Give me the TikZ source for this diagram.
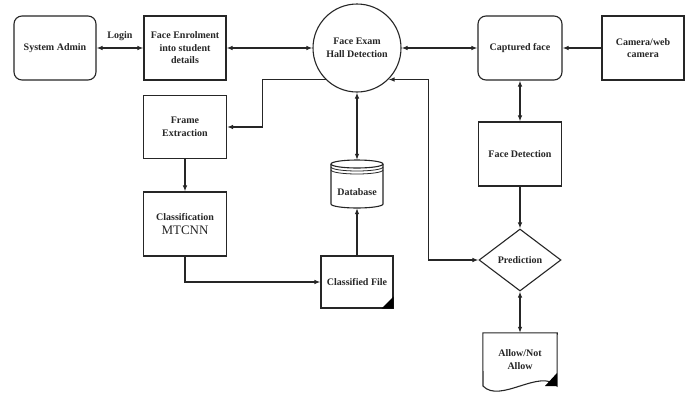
\documentclass[tikz,border=0pt]{standalone}
\usepackage{fontspec}
\setmainfont{Liberation Serif}
\usetikzlibrary{arrows.meta,shapes.geometric,calc}
\begin{document}
\begin{tikzpicture}[x=1pt,y=-1pt,
  ln/.style={line width=1.1pt, draw=black!85},
  lbl/.style={font=\fontsize{10}{12.5}\selectfont\bfseries, align=center, text=black!85},
  box/.style={ln, rectangle, minimum width=82pt, minimum height=64pt, inner sep=1pt, lbl},
  rbox/.style={box, rounded corners=8pt},
  con/.style={ln, -{Latex[length=6pt,width=4.5pt]}},
  bicon/.style={ln, {Latex[length=6pt,width=4.5pt]}-{Latex[length=6pt,width=4.5pt]}}
]
\useasboundingbox[fill=white] (0,0) rectangle (688,400);

% top row
\node[rbox] (admin) at (55,48) {System Admin};
\node[box] (enrol) at (185,48) {Face Enrolment\\into student\\details};
\node[ln, draw, circle, minimum size=88pt, inner sep=0pt, lbl] (hall) at (357,48) {Face Exam\\Hall Detection};
\node[rbox, minimum width=84pt] (capt) at (520,48) {Captured face};
\node[box] (cam) at (643,48) {Camera/web\\camera};

% left column
\node[box, minimum width=83pt, minimum height=63pt] (frame) at (185,127) {Frame\\Extraction};
\node[box, minimum width=83pt] (class) at (185,224) {Classification\\[1pt]{\fontsize{13}{13}\selectfont\mdseries MTCNN}};

% middle column
\node[minimum width=52pt, minimum height=48pt, inner sep=0pt] (db) at (357,184) {};
\draw[ln] (331,164) -- (331,204) arc[start angle=180, end angle=0, x radius=26, y radius=4] -- (383,164);
\draw[ln, fill=white] (357,164) ellipse [x radius=26, y radius=4];
\draw[ln, line width=0.8pt] (331,167) arc[start angle=180, end angle=0, x radius=26, y radius=4];
\draw[ln, line width=0.8pt] (331,170) arc[start angle=180, end angle=0, x radius=26, y radius=4];
\node[lbl] (dbl) at (357,192) {Database};

\node[box, minimum width=72pt, minimum height=52pt] (cfile) at (357,282) {Classified File};
\fill[black] ($(cfile.south east)+(-12,0)$) -- (cfile.south east) -- ++(0,-12) -- cycle;

% right column
\node[box, minimum width=83pt] (facedet) at (520,154) {Face Detection};
\node[ln, draw, diamond, aspect=1.32, minimum width=82pt, minimum height=62pt, inner sep=0pt, lbl] (pred) at (520,260) {Prediction};

\node[lbl, minimum width=74pt, minimum height=53pt, inner sep=0pt] (allow) at (520,359.5) {Allow/Not\\Allow};
\draw[ln] (allow.north west) -- (allow.north east) -- (557,386)
  .. controls (540,368) and (500,404) .. (483,386) -- cycle;
\fill[black] (545,386) -- (557,386) -- (557,373) -- cycle;

% connectors
\draw[bicon] (admin) -- node[lbl, above=3pt] {Login} (enrol);
\draw[bicon] (enrol) -- (hall);
\draw[bicon] (capt) -- (hall);
\draw[con] (cam) -- (capt);
\draw[bicon] (capt) -- (facedet);
\draw[con] (facedet) -- (pred);
\draw[bicon] (pred) -- (allow.north);
\draw[bicon] (hall) -- (db.north);
\draw[con] (hall.-135) -- ++(-63,0) |- (frame.east);
\draw[bicon] (hall.-45) -- ++(40,0) |- (pred.west);
\draw[con] (frame) -- (class);
\draw[con] (class.south) |- (cfile.west);
\draw[con] (cfile.north) -- (db.south);
\end{tikzpicture}
\end{document}
